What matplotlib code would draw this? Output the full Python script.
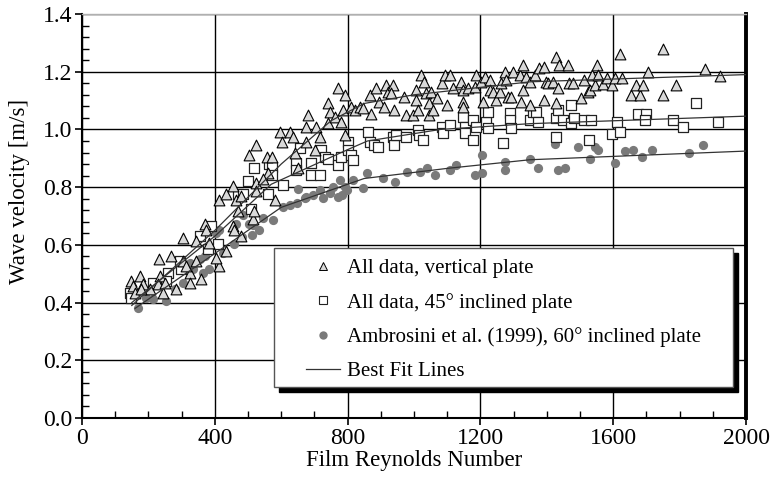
import numpy as np
import matplotlib
matplotlib.use("Agg")
import matplotlib.pyplot as plt
from matplotlib.patches import Rectangle
from matplotlib.lines import Line2D

plt.rcParams['font.family'] = ['Liberation Serif', 'DejaVu Serif']

# ── data ───────────────────────────────────────────────────
vert_re = [149, 174, 154, 184, 159, 204, 179, 234, 229, 249, 232, 267, 304, 344, 369, 374,
           384, 304, 324, 314, 344, 359, 324, 284, 244, 414, 404, 434, 414, 434, 454, 464,
           479, 454, 459, 469, 479, 504, 524, 558, 559, 524, 514, 519, 524, 544, 581,
           571, 596, 601, 626, 636, 641, 651, 676, 681, 676, 701, 706, 716, 741, 746, 741,
           761, 771, 781, 786, 791, 791, 811, 821, 836, 846, 866, 871, 886, 896, 911, 916,
           921, 936, 941, 931, 971, 976, 996, 1006, 1006, 1011, 1021, 1031, 1036, 1046, 1046,
           1051, 1058, 1068, 1083, 1093, 1108, 1098, 1118, 1143, 1148, 1148, 1148, 1163, 1183,
           1188, 1203, 1208, 1213, 1228, 1228, 1238, 1248, 1258, 1263, 1273, 1278, 1283, 1293,
           1298, 1318, 1323, 1328, 1328, 1338, 1348, 1348, 1363, 1378, 1393, 1393, 1398, 1403,
           1418, 1428, 1428, 1433, 1438, 1463, 1468, 1478, 1503, 1513, 1523, 1530, 1535, 1545,
           1550, 1555, 1570, 1580, 1595, 1605, 1620, 1625, 1655, 1670, 1680, 1690, 1705, 1750,
           1750, 1788, 1878, 1922]
vert_v = [0.474, 0.492, 0.457, 0.463, 0.434, 0.446, 0.446, 0.492, 0.463, 0.469, 0.550, 0.563,
          0.625, 0.613, 0.671, 0.653, 0.607, 0.544, 0.503, 0.526, 0.544, 0.480, 0.469, 0.446,
          0.434, 0.526, 0.555, 0.578, 0.757, 0.775, 0.804, 0.757, 0.769, 0.665, 0.653, 0.717,
          0.630, 0.911, 0.946, 0.906, 0.848, 0.815, 0.688, 0.717, 0.786, 0.827, 0.755,
          0.905, 0.992, 0.957, 0.992, 0.974, 0.917, 0.865, 1.009, 1.049, 0.957, 0.928, 1.009,
          0.974, 1.090, 1.061, 1.021, 1.044, 1.142, 1.026, 1.067, 1.119, 0.980, 1.078, 1.067,
          1.078, 1.073, 1.119, 1.055, 1.142, 1.096, 1.078, 1.153, 1.130, 1.153, 1.067, 1.125,
          1.113, 1.049, 1.049, 1.136, 1.101, 1.067, 1.188, 1.165, 1.125, 1.090, 1.049,
          1.130, 1.067, 1.108, 1.160, 1.189, 1.189, 1.085, 1.143, 1.166, 1.137, 1.096, 1.079,
          1.143, 1.148, 1.189, 1.166, 1.096, 1.183, 1.171, 1.137, 1.131, 1.102, 1.131, 1.160,
          1.200, 1.171, 1.114, 1.114, 1.200, 1.189, 1.096, 1.223, 1.137, 1.183, 1.166, 1.085,
          1.189, 1.212, 1.218, 1.102, 1.166, 1.160, 1.166, 1.091, 1.252, 1.143, 1.223, 1.223,
          1.160, 1.160, 1.108, 1.171, 1.131, 1.136, 1.188, 1.153, 1.223, 1.188, 1.159, 1.177,
          1.153, 1.177, 1.263, 1.177, 1.119, 1.153, 1.119, 1.153, 1.200, 1.119, 1.277, 1.153,
          1.211, 1.185]

incl_re = [144, 149, 214, 259, 254, 299, 294, 354, 389, 379, 409, 499, 519, 564, 469, 484,
           509, 559, 571, 571, 606, 646, 646, 656, 691, 691, 716, 721, 731, 741, 771, 781,
           801, 801, 811, 816, 861, 866, 881, 891, 936, 941, 946, 976, 1011, 1016, 1026,
           1083, 1088, 1108, 1148, 1153, 1153, 1178, 1178, 1188, 1218, 1223, 1223, 1268,
           1288, 1288, 1293, 1348, 1358, 1368, 1373, 1428, 1428, 1433, 1448, 1473, 1473,
           1483, 1513, 1533, 1528, 1610, 1595, 1620, 1675, 1700, 1695, 1780, 1810, 1850, 1915]
incl_v = [0.434, 0.417, 0.469, 0.503, 0.474, 0.515, 0.544, 0.630, 0.665, 0.584, 0.602, 0.821,
          0.867, 0.879, 0.775, 0.775, 0.723, 0.775, 0.870, 0.842, 0.807, 0.882, 0.859, 0.934,
          0.882, 0.842, 0.842, 0.928, 0.905, 0.899, 0.876, 0.905, 0.957, 0.928, 0.911, 0.894,
          0.992, 0.957, 0.946, 0.940, 0.974, 0.946, 0.980, 0.974, 0.997, 0.980, 0.963,
          1.010, 0.987, 1.016, 1.044, 1.010, 0.987, 1.033, 0.963, 1.010, 1.027, 1.062, 1.004,
          0.952, 1.056, 1.033, 1.004, 1.033, 1.062, 1.062, 1.027, 1.039, 0.975, 1.067, 1.033,
          1.085, 1.021, 1.039, 1.033, 1.033, 0.963, 1.026, 0.984, 0.992, 1.053, 1.053, 1.034,
          1.034, 1.009, 1.090, 1.026]

ambr_re = [169, 194, 214, 254, 279, 304, 324, 334, 354, 364, 369, 384, 404, 414, 424, 459,
           464, 481, 486, 504, 511, 516, 534, 544, 576, 606, 627, 647, 651, 672, 676, 697,
           717, 727, 747, 757, 772, 777, 782, 792, 797, 817, 847, 857, 907, 942, 978, 1018,
           1038, 1063, 1108, 1128, 1184, 1204, 1204, 1274, 1274, 1349, 1374, 1424, 1434, 1455,
           1495, 1530, 1545, 1555, 1605, 1635, 1660, 1688, 1716, 1829, 1871]
ambr_v = [0.382, 0.417, 0.411, 0.405, 0.446, 0.469, 0.538, 0.515, 0.550, 0.503, 0.561, 0.515,
          0.642, 0.653, 0.573, 0.602, 0.671, 0.628, 0.703, 0.671, 0.634, 0.669, 0.653, 0.694,
          0.686, 0.732, 0.738, 0.744, 0.795, 0.761, 0.766, 0.773, 0.790, 0.761, 0.778, 0.801,
          0.766, 0.824, 0.773, 0.801, 0.790, 0.824, 0.796, 0.848, 0.830, 0.818, 0.853, 0.853,
          0.865, 0.842, 0.860, 0.877, 0.842, 0.848, 0.912, 0.888, 0.860, 0.899, 0.865, 0.951,
          0.859, 0.865, 0.940, 0.896, 0.940, 0.930, 0.882, 0.926, 0.930, 0.903, 0.930, 0.917,
          0.946]

# best fit lines (knots)
fit_vert_re = [150, 400, 600, 750, 850, 1000, 1350, 2000]
fit_vert_v = [0.39, 0.65, 0.88, 1.03, 1.09, 1.12, 1.165, 1.19]
fit_incl_re = [150, 400, 570, 800, 860, 1080, 1350, 2000]
fit_incl_v = [0.40, 0.63, 0.81, 0.93, 0.96, 1.00, 1.02, 1.046]
fit_ambr_re = [160, 400, 600, 850, 1100, 1350, 2000]
fit_ambr_v = [0.38, 0.57, 0.73, 0.83, 0.865, 0.895, 0.925]

labels = ['All data, vertical plate', 'All data, 45\u00b0 inclined plate',
          'Ambrosini et al. (1999), 60\u00b0 inclined plate', 'Best Fit Lines']


def main():
    fig = plt.figure(figsize=(7.7, 4.78), dpi=100)
    ax = fig.add_axes([82 / 770, 1 - 418 / 478, 664 / 770, 404 / 478])

    # fit lines
    for xs, ys in [(fit_vert_re, fit_vert_v), (fit_incl_re, fit_incl_v), (fit_ambr_re, fit_ambr_v)]:
        ax.plot(xs, ys, color='#333333', lw=0.9, zorder=3)

    ax.scatter(ambr_re, ambr_v, s=44, marker='o', color='#7a7a7a', linewidths=0, zorder=2)
    ax.scatter(incl_re, incl_v, s=42, marker='s', facecolor='white', edgecolor='#222222',
               linewidths=0.9, zorder=2.2)
    ax.scatter(vert_re, vert_v, s=60, marker='^', facecolor='#d9d9d9', edgecolor='black',
               linewidths=0.8, zorder=2.4)

    ax.set_xlim(0, 2000)
    ax.set_ylim(0, 1.4)
    ax.set_xticks(np.arange(0, 2001, 400))
    ax.set_yticks(np.arange(0, 1.41, 0.2))
    ax.set_yticklabels([f"{t:.1f}" for t in np.arange(0, 1.41, 0.2)])
    ax.set_xticks(np.arange(0, 2001, 100), minor=True)
    ax.set_yticks(np.arange(0, 1.401, 0.04), minor=True)
    ax.tick_params(which='major', direction='out', length=5, width=1.2, labelsize=17, pad=2)
    ax.tick_params(which='minor', direction='in', length=5, width=1.0)
    ax.tick_params(axis='y', which='both', right=False)
    ax.grid(True, which='major', color='black', lw=1.0)
    ax.set_axisbelow(True)

    for side in ['left', 'bottom']:
        ax.spines[side].set_linewidth(1.5)
    ax.spines['right'].set_linewidth(2.8)
    ax.spines['top'].set_color('#b0b0b0')
    ax.spines['top'].set_linewidth(1.0)

    ax.set_xlabel('Film Reynolds Number', fontsize=16.5, labelpad=1)
    ax.set_ylabel('Wave velocity [m/s]', fontsize=16.5)
    ax.yaxis.set_label_coords(-0.079, 0.56)

    # legend frame with hard black shadow
    fx, fy, fw, fh = 0.289, 0.0775, 0.691, 0.343
    dx, dy = 5 / 664, 5 / 404
    ax.add_patch(Rectangle((fx + dx, fy - dy), fw, fh, transform=ax.transAxes,
                           facecolor='black', edgecolor='black', zorder=6))
    ax.add_patch(Rectangle((fx, fy), fw, fh, transform=ax.transAxes,
                           facecolor='white', edgecolor='#555555', lw=1.0, zorder=6.1))

    handles = [
        Line2D([], [], ls='none', marker='^', ms=6, mfc='#d9d9d9', mec='black', mew=0.7),
        Line2D([], [], ls='none', marker='s', ms=5.5, mfc='white', mec='#222222', mew=0.8),
        Line2D([], [], ls='none', marker='o', ms=6, mfc='#7a7a7a', mec='none'),
        Line2D([], [], color='#333333', lw=0.9),
    ]
    leg = ax.legend(handles, labels, loc='upper left', bbox_to_anchor=(0.337, 0.394),
                    frameon=False, fontsize=15, handlelength=1.63, handletextpad=0.34,
                    labelspacing=0.69, borderpad=0, borderaxespad=0)
    leg.set_zorder(7)

    fig.savefig('out.png', dpi=100)


if __name__ == '__main__':
    main()
